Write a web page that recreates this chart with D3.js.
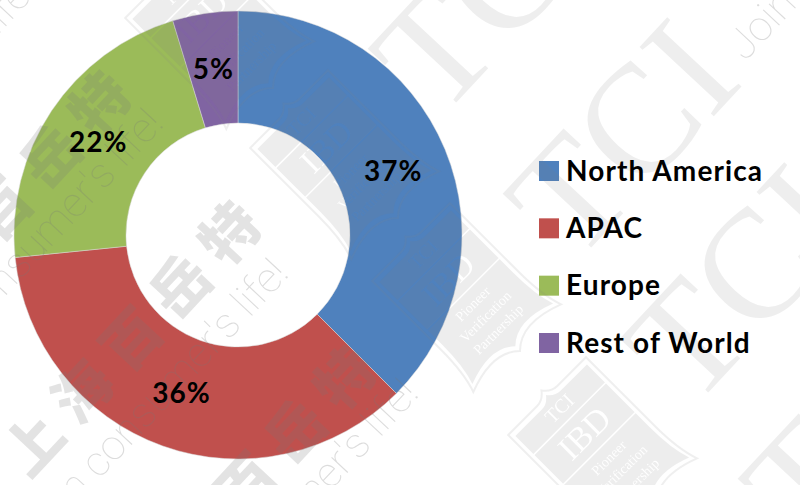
<!DOCTYPE html>
<html>
<head>
<meta charset="utf-8" />
<style>
  body { margin: 0; background: #fff; }
  text { font-family: Lato, "Noto Sans", sans-serif; }
  .pct { font-weight: 700; font-size: 28px; letter-spacing: 1px; fill: #000; }
  .leg { font-weight: 700; font-size: 28px; letter-spacing: 1.1px; fill: #000; }
  .wm-tci { font-family: "Liberation Serif", serif; font-size: 155px; fill: #808080; opacity: .13; }
  .wm-cn { font-family: "Noto Sans CJK SC", sans-serif; font-weight: 900; font-size: 58px; letter-spacing: 14px; fill: #777; opacity: .2; }
  .wm-join { font-family: Roboto, sans-serif; font-weight: 100; font-size: 42px; fill: #777; opacity: .25; }
  .sh-body { fill: #808080; opacity: .14; }
  .sh-edge { fill: none; stroke: #808080; stroke-width: 2; opacity: .13; }
  .sh-txt { font-family: "Liberation Serif", serif; fill: #000; text-anchor: middle; }
</style>
<script src="https://d3js.org/d3.v7.min.js"></script>
</head>
<body>
<svg id="chart" width="800" height="485"></svg>
<script>
  var regions = ["North America", "APAC", "Europe", "Rest of World"];
  var shares = [37.5, 35.9, 21.9, 4.7];
  var labels = ["37%", "36%", "22%", "5%"];
  var colors = ["#4f81bd", "#c0504d", "#9bbb59", "#8064a2"];

  // watermark rows, repeated down the diagonal
  var tciSpots = [[440, 120], [575, 265], [692, 410], [810, 550]];
  var cnSpots = [[-101, 350], [29, 480], [144, 625]];
  var joinEnds = [[38, -8], [165, 125], [290, 275], [420, 395]];
  var joinStart = [[745, 62]];
  var shieldSpots = [[215, 30], [340, 160], [462, 293], [598, 447]];
  var shieldText = [["TCI", -48, 20], ["IBD", -8, 34], ["Pioneer", 20, 14], ["Verification", 38, 14], ["Partnership", 56, 14]];

  var svg = d3.select("#chart");
  var cx = 238, cy = 235, outer = 224, inner = 112;
  var center = "translate(" + cx + "," + cy + ")";

  var pie = d3.pie().sort(null).value(function(d) { return d; });
  var arc = d3.arc().innerRadius(inner).outerRadius(outer);
  var slices = pie(shares);

  svg.append("g").attr("transform", center)
    .selectAll("path").data(slices).enter().append("path")
    .attr("d", arc)
    .attr("fill", function(d, i) { return colors[i]; })
    .attr("stroke", "#d8d8d8")
    .attr("stroke-width", 0.5);

  var leg = d3.scalePoint().domain(regions).range([171, 343]);
  svg.selectAll("rect.swatch").data(regions).enter().append("rect")
    .attr("class", "swatch")
    .attr("x", 539)
    .attr("y", function(d) { return leg(d) - 10; })
    .attr("width", 20)
    .attr("height", 20)
    .attr("fill", function(d, i) { return colors[i]; });

  // watermark goes over the chart but under the texts
  var wm = svg.append("g");
  var turn = function(p) { return "translate(" + p[0] + "," + p[1] + ") rotate(-47)"; };

  wm.selectAll("text.wm-tci").data(tciSpots).enter().append("text")
    .attr("class", "wm-tci")
    .attr("transform", turn)
    .text("TCI");

  wm.selectAll("text.wm-cn").data(cnSpots).enter().append("text")
    .attr("class", "wm-cn")
    .attr("transform", turn)
    .text("上海百岳特");

  wm.selectAll("text.wm-end").data(joinEnds).enter().append("text")
    .attr("class", "wm-join wm-end")
    .attr("text-anchor", "end")
    .attr("transform", turn)
    .text("Join consumer's life!");

  wm.selectAll("text.wm-start").data(joinStart).enter().append("text")
    .attr("class", "wm-join wm-start")
    .attr("transform", turn)
    .text("Join consumer's life!");

  // shield lettering is cut out of the grey body with a mask
  var shieldPath = "M-55,-72 L-14,-72 Q-6,-72 0,-80 Q6,-72 14,-72 L55,-72 L55,25 Q55,58 62,78 Q20,62 0,82 Q-20,62 -62,78 Q-55,58 -55,25 Z";
  var cut = svg.append("defs").append("mask").attr("id", "shieldCut")
    .attr("maskUnits", "userSpaceOnUse")
    .attr("x", -80).attr("y", -100).attr("width", 160).attr("height", 200);
  cut.append("rect").attr("x", -80).attr("y", -100).attr("width", 160).attr("height", 200).attr("fill", "#fff");
  cut.selectAll("line").data([-40, 2]).enter().append("line")
    .attr("x1", -55).attr("x2", 55).attr("y1", function(d) { return d; }).attr("y2", function(d) { return d; })
    .attr("stroke", "#000").attr("stroke-width", 1.5);
  cut.selectAll("text").data(shieldText).enter().append("text")
    .attr("class", "sh-txt")
    .attr("y", function(d) { return d[1]; })
    .attr("font-size", function(d) { return d[2]; })
    .text(function(d) { return d[0]; });

  var shields = wm.selectAll("g.shield").data(shieldSpots).enter().append("g")
    .attr("class", "shield")
    .attr("transform", function(p) { return "translate(" + p[0] + "," + p[1] + ") rotate(-45)"; });
  shields.append("g").attr("mask", "url(#shieldCut)")
    .append("path").attr("class", "sh-body").attr("d", shieldPath).attr("transform", "scale(0.92)");
  shields.append("path").attr("class", "sh-edge").attr("d", shieldPath);

  svg.append("g").attr("transform", center)
    .selectAll("text").data(slices).enter().append("text")
    .attr("class", "pct")
    .attr("text-anchor", "middle")
    .attr("dy", "0.35em")
    .attr("transform", function(d) { return "translate(" + arc.centroid(d) + ")"; })
    .text(function(d, i) { return labels[i]; });

  svg.selectAll("text.leg").data(regions).enter().append("text")
    .attr("class", "leg")
    .attr("x", 566)
    .attr("y", function(d) { return leg(d); })
    .attr("dy", "0.35em")
    .text(function(d) { return d; });
</script>
</body>
</html>
